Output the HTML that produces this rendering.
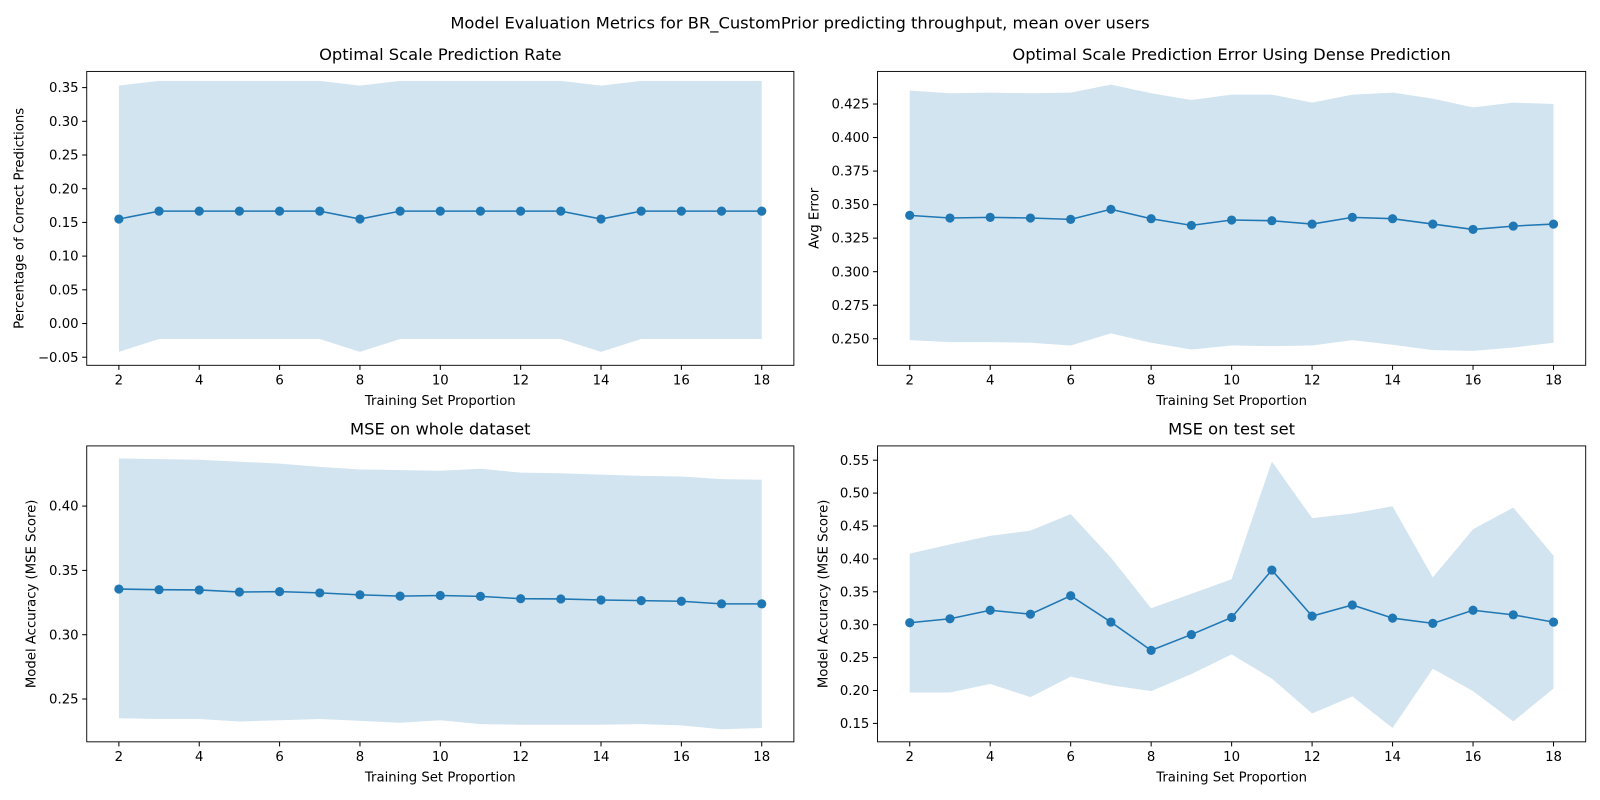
<!DOCTYPE html>
<html><head><meta charset="utf-8"><style>
html,body{margin:0;padding:0;background:#fff;overflow:hidden;width:1600px;height:800px;}
svg{display:block;font-family:"DejaVu Sans","Liberation Sans",sans-serif;}
</style></head><body>
<svg width="1600" height="800" viewBox="0 0 1600 800">
<rect width="1600" height="800" fill="#fff"/>
<g id="fig" transform="scale(1.0204)">
<text x="784" y="28" font-size="16" text-anchor="middle">Model Evaluation Metrics for BR_CustomPrior predicting throughput, mean over users</text>
</g>
</svg>
<script>
const xs = [2,3,4,5,6,7,8,9,10,11,12,13,14,15,16,17,18];
const xTicks = [2,4,6,8,10,12,14,16,18];
const rateMean = [0.155,0.1667,0.1667,0.1667,0.1667,0.1667,0.155,0.1667,0.1667,0.1667,0.1667,0.1667,0.155,0.1667,0.1667,0.1667,0.1667];
const rateUpper = [0.353,0.36,0.36,0.36,0.36,0.36,0.353,0.36,0.36,0.36,0.36,0.36,0.353,0.36,0.36,0.36,0.36];
const rateLower = [-0.042,-0.023,-0.023,-0.023,-0.023,-0.023,-0.042,-0.023,-0.023,-0.023,-0.023,-0.023,-0.042,-0.023,-0.023,-0.023,-0.023];
const rateTicks = [-0.05,0,0.05,0.1,0.15,0.2,0.25,0.3,0.35];
const errMean = [0.342,0.340,0.3405,0.340,0.339,0.3465,0.3395,0.3345,0.3385,0.338,0.3355,0.3405,0.3395,0.3355,0.3315,0.334,0.3355];
const errUpper = [0.435,0.433,0.4335,0.433,0.4335,0.4395,0.433,0.428,0.432,0.432,0.426,0.432,0.4335,0.429,0.4225,0.426,0.425];
const errLower = [0.249,0.2475,0.2475,0.247,0.245,0.254,0.247,0.242,0.245,0.2445,0.245,0.249,0.2455,0.2415,0.241,0.2435,0.247];
const errTicks = [0.25,0.275,0.3,0.325,0.35,0.375,0.4,0.425];
const wholeMean = [0.3355,0.335,0.3348,0.3332,0.3335,0.3325,0.331,0.330,0.3305,0.3298,0.328,0.3278,0.327,0.3265,0.326,0.324,0.324];
const wholeUpper = [0.437,0.4365,0.436,0.4345,0.433,0.4305,0.4285,0.428,0.4275,0.429,0.426,0.4255,0.4245,0.4235,0.423,0.421,0.4205];
const wholeLower = [0.235,0.2345,0.2345,0.2325,0.2335,0.2345,0.233,0.2315,0.2335,0.2305,0.230,0.230,0.230,0.2305,0.2295,0.2265,0.2275];
const wholeTicks = [0.25,0.3,0.35,0.4];
const testMean = [0.303,0.309,0.322,0.316,0.344,0.304,0.261,0.285,0.311,0.383,0.313,0.330,0.310,0.302,0.322,0.315,0.304];
const testUpper = [0.408,0.422,0.435,0.443,0.468,0.402,0.325,0.347,0.369,0.548,0.462,0.469,0.480,0.372,0.445,0.478,0.405];
const testLower = [0.197,0.197,0.210,0.190,0.221,0.208,0.199,0.225,0.255,0.218,0.165,0.191,0.143,0.233,0.199,0.153,0.203];
const testTicks = [0.15,0.2,0.25,0.3,0.35,0.4,0.45,0.5,0.55];

const NS="http://www.w3.org/2000/svg";
const svg=document.getElementById('fig');
function mk(tag,attrs,parent,text){const e=document.createElementNS(NS,tag);for(const k in attrs)e.setAttribute(k,attrs[k]);if(text!==undefined)e.textContent=text;(parent||svg).appendChild(e);return e;}

function panel(id,box,ylim,yt,dec,mean,up,lo,title,ylab,yoff){
  const [L,T,R,B]=box;
  const g=mk('g',{});
  
  
  const xmin=1.2,xmax=18.8;
  const sx=v=>L+(v-xmin)/(xmax-xmin)*(R-L);
  const sy=v=>B-(v-ylim[0])/(ylim[1]-ylim[0])*(B-T);
  let d='M'+xs.map((x,i)=>sx(x)+','+sy(up[i])).join('L');
  for(let i=xs.length-1;i>=0;i--)d+='L'+sx(xs[i])+','+sy(lo[i]);
  const band=mk('path',{d:d+'Z',fill:'#1f77b4','fill-opacity':0.2},g);
  
  
  const line=mk('polyline',{points:xs.map((x,i)=>sx(x)+','+sy(mean[i])).join(' '),fill:'none',stroke:'#1f77b4','stroke-width':1.5},g);
  
  
  xs.forEach((x,i)=>{const c=mk('circle',{cx:sx(x),cy:sy(mean[i]),r:4.5,fill:'#1f77b4'},g);
    
    });
  const fr=mk('rect',{x:L,y:T,width:R-L,height:B-T,fill:'none',stroke:'#000','stroke-width':0.9},g);
  
  
  xTicks.forEach(v=>{const x=sx(v);mk('line',{x1:x,x2:x,y1:B,y2:B+4.5,stroke:'#000'},g);
    const t=mk('text',{x:x,y:B+19,'font-size':13,'text-anchor':'middle'},g,String(v));
    
    });
  yt.forEach(v=>{const y=sy(v);mk('line',{x1:L-4.5,x2:L,y1:y,y2:y,stroke:'#000'},g);
    const t=mk('text',{x:L-8,y:y+4.5,'font-size':13,'text-anchor':'end'},g,v.toFixed(dec).replace('-','\u2212'));
    
    });
  const tt=mk('text',{x:(L+R)/2,y:T-11,'font-size':16,'text-anchor':'middle'},g,title);
  
  
  const xl=mk('text',{x:(L+R)/2,y:B+39,'font-size':13,'text-anchor':'middle'},g,'Training Set Proportion');
  
  
  const lx=L-yoff;
  const yl=mk('text',{x:lx,y:(T+B)/2,'font-size':13,'text-anchor':'middle',transform:`rotate(-90 ${lx} ${(T+B)/2})`},g,ylab);
  
  
}
panel('rate',[85,70,778,358],[-0.062,0.374],rateTicks,2,rateMean,rateUpper,rateLower,'Optimal Scale Prediction Rate','Percentage of Correct Predictions',62);
panel('error',[860,70,1554,358],[0.2302,0.4493],errTicks,3,errMean,errUpper,errLower,'Optimal Scale Prediction Error Using Dense Prediction','Avg Error',58);
panel('whole',[85,437,778,727],[0.2167,0.4468],wholeTicks,2,wholeMean,wholeUpper,wholeLower,'MSE on whole dataset','Model Accuracy (MSE Score)',50);
panel('test',[860,437,1554,727],[0.122,0.5717],testTicks,2,testMean,testUpper,testLower,'MSE on test set','Model Accuracy (MSE Score)',49);
</script>
</body></html>
